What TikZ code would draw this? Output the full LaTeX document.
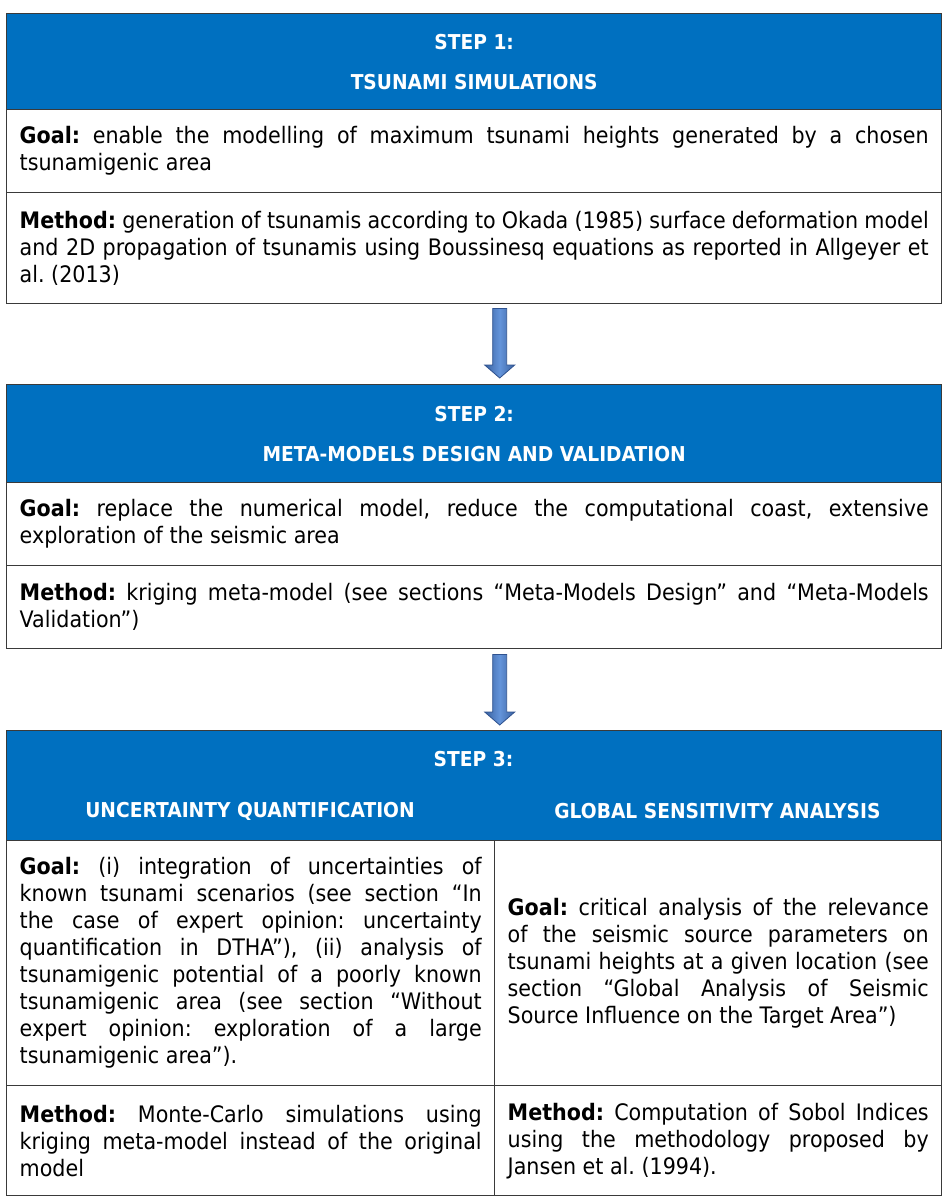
\documentclass[tikz,border=0pt]{standalone}
\usepackage{fontspec}
\setmainfont[FakeStretch=0.91]{DejaVu Sans}
\usetikzlibrary{calc}
\definecolor{hdrblue}{HTML}{0070C0}
\definecolor{edge}{HTML}{3A3A3A}
\definecolor{arrowdark}{HTML}{3A62A0}
\definecolor{arrowlight}{HTML}{6494DA}
\definecolor{arrowline}{HTML}{2F528F}
\newcommand\bodyfont{\fontsize{22.7pt}{27pt}\selectfont\frenchspacing\hyphenpenalty=10000\exhyphenpenalty=10000\tolerance=9999}
\newcommand\hdrfont{\fontsize{20.5pt}{40pt}\selectfont\bfseries}
\newcommand\blockarrowpath[2]{\path[blockarrow] ($(#1)+(-7,0)$) -- ($(#2)+(-7,-13)$) -- ($(#2)+(-15,-13)$) -- (#2) -- ($(#2)+(15,-13)$) -- ($(#2)+(7,-13)$) -- ($(#1)+(7,0)$) -- cycle;}
\begin{document}
\begin{tikzpicture}[x=1pt,y=-1pt,
  cellbox/.style={draw=edge, line width=1.4pt, inner sep=0pt, inner xsep=13pt, anchor=north west, align=justify, font=\bodyfont, text=black},
  hdrbox/.style={draw=edge, line width=1.4pt, fill=hdrblue, anchor=north west, inner sep=0pt, align=center, font=\hdrfont, text=white},
  hdrtext/.style={text=white, font=\hdrfont, inner sep=0pt},
  blockarrow/.style={draw=arrowline, line width=0.8pt, left color=arrowdark, right color=arrowdark, middle color=arrowlight}]
\fill[white] (0,0) rectangle (950,1200);
\useasboundingbox (0,0) rectangle (950,1200);

% STEP 1
\node[hdrbox, minimum width=935pt, minimum height=96pt] (h1) at (6,13) {STEP 1:\\TSUNAMI SIMULATIONS};
\node[cellbox, minimum width=935pt, minimum height=83pt, text width=909pt] (g1) at (6,109)
  {\textbf{Goal:} enable the modelling of maximum tsunami heights generated by a chosen\linebreak tsunamigenic area};
\node[cellbox, minimum width=935pt, minimum height=111pt, text width=909pt] (m1) at (6,192)
  {\textbf{Method:} generation of tsunamis according to Okada (1985) surface deformation model\linebreak and 2D propagation of tsunamis using Boussinesq equations as reported in Allgeyer et\linebreak al. (2013)};

% STEP 2
\node[hdrbox, minimum width=935pt, minimum height=98pt] (h2) at (6,384) {STEP 2:\\META-MODELS DESIGN AND VALIDATION};
\node[cellbox, minimum width=935pt, minimum height=83pt, text width=909pt] (g2) at (6,482)
  {\textbf{Goal:} replace the numerical model, reduce the computational coast, extensive\linebreak exploration of the seismic area};
\node[cellbox, minimum width=935pt, minimum height=83pt, text width=909pt] (m2) at (6,565)
  {\textbf{Method:} kriging meta-model (see sections “Meta-Models Design” and “Meta-Models\linebreak Validation”)};

% STEP 3
\node[hdrbox, minimum width=935pt, minimum height=110pt] (h3) at (6,730) {};
\node[hdrtext] (s3) at (473.5,759) {STEP 3:};
\node[hdrtext] (uq) at (250,811) {UNCERTAINTY QUANTIFICATION};
\node[hdrtext] (gsa) at (717.5,811) {GLOBAL SENSITIVITY ANALYSIS};
\node[cellbox, minimum width=488pt, minimum height=245pt, text width=462pt] (g3l) at (6,840)
  {\textbf{Goal:} (i) integration of uncertainties of\linebreak known tsunami scenarios (see section “In\linebreak the case of expert opinion: uncertainty\linebreak quantification in DTHA”), (ii) analysis of\linebreak tsunamigenic potential of a poorly known\linebreak tsunamigenic area (see section “Without\linebreak expert opinion: exploration of a large\linebreak tsunamigenic area”).};
\node[cellbox, minimum width=447pt, minimum height=245pt, text width=421pt] (g3r) at (494,840)
  {\textbf{Goal:} critical analysis of the relevance\linebreak of the seismic source parameters on\linebreak tsunami heights at a given location (see\linebreak section “Global Analysis of Seismic\linebreak Source Influence on the Target Area”)};
\node[cellbox, minimum width=488pt, minimum height=110pt, text width=462pt] (m3l) at (6,1085)
  {\textbf{Method:} Monte-Carlo simulations using\linebreak kriging meta-model instead of the original\linebreak model};
\node[cellbox, minimum width=447pt, minimum height=110pt, text width=421pt] (m3r) at (494,1085)
  {\textbf{Method:} Computation of Sobol Indices\linebreak using the methodology proposed by\linebreak Jansen et al. (1994).};

% arrows
\coordinate (a1s) at ($(m1.south)+(25.5,4)$);
\coordinate (a1e) at ($(h2.north)+(25.5,-6)$);
\blockarrowpath{a1s}{a1e}
\coordinate (a2s) at ($(m2.south)+(25.5,5)$);
\coordinate (a2e) at ($(h3.north)+(25.5,-5)$);
\blockarrowpath{a2s}{a2e}
\end{tikzpicture}
\end{document}
